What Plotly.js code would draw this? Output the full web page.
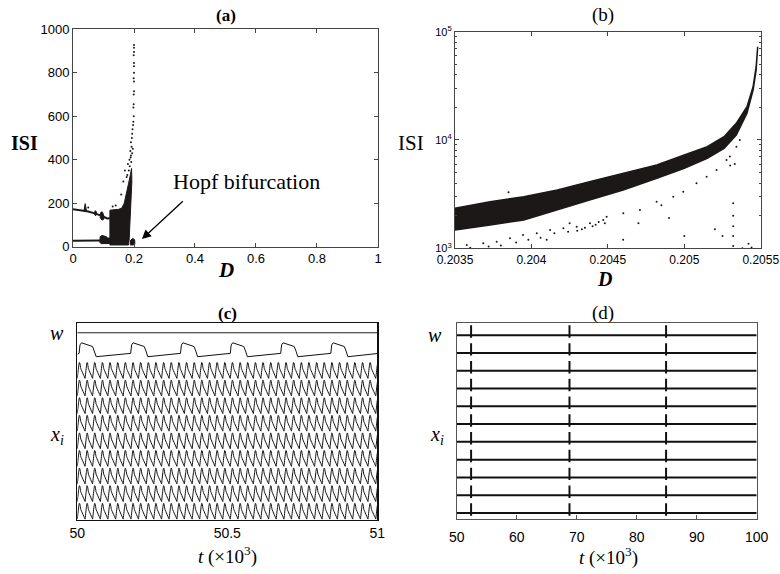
<!DOCTYPE html>
<html>
<head>
<meta charset="utf-8">
<script src="https://cdn.plot.ly/plotly-3.0.1.min.js"></script>
<style>html,body{margin:0;padding:0;background:#fff;}#chart{width:780px;height:574px;}</style>
</head>
<body>
<div id="chart"></div>
<script>
// ---------------- Panel (a): ISI vs D ----------------
const aUpperD   = [0.000, 0.020, 0.034, 0.050, 0.060, 0.068, 0.080, 0.088, 0.100, 0.112, 0.121];
const aUpperISI = [172,   169,   166,   162,   158,   155,   148,   145,   138,   130,   131];
const aClusterD   = [0.036, 0.040, 0.044, 0.036, null, 0.070, 0.073, 0.077, 0.074, 0.070, null, 0.089, 0.091, 0.096, 0.100, 0.102, 0.095, 0.089];
const aClusterISI = [166,   198,   166,   166,   null, 152,   166,   160,   142,   152,   null, 134,   158,   160,   148,   128,   122,   134];
const aLowerD   = [0.000, 0.050, 0.090];
const aLowerISI = [27,    26,    28];
const aBlobD   = [0.088, 0.089, 0.095, 0.104, 0.110, 0.112, 0.121, 0.121, 0.112, 0.104, 0.092, 0.088];
const aBlobISI = [20,    46,    52,    50,    46,    40,    40,    15,    15,    12,    14,    20];
const aBlockD   = [0.121, 0.121, 0.150, 0.160, 0.168, 0.175, 0.182, 0.188, 0.192, 0.193, 0.190, 0.187, 0.184, 0.182, 0.121];
const aBlockISI = [8,     168,   172,   178,   200,   240,   290,   330,   360,   300,   180,   90,    30,    8,     8];
const aHopfD   = [0.188, 0.189, 0.196, 0.202, 0.203, 0.197, 0.188];
const aHopfISI = [8,     30,    38,    32,    12,    8,     8];
const aSparseD   = [0.180, 0.185, 0.190, 0.188, 0.192, 0.190, 0.193, 0.194, 0.195, 0.183, 0.178, 0.186, 0.191, 0.189, 0.194, 0.196,
                    0.197, 0.198, 0.199, 0.198, 0.199, 0.199, 0.200, 0.200, 0.199, 0.200, 0.200, 0.200, 0.199, 0.200, 0.200, 0.200,
                    0.158, 0.165, 0.170, 0.176, 0.140, 0.130, 0.050];
const aSparseISI = [380,   400,   420,   440,   460,   480,   500,   520,   540,   350,   330,   370,   390,   410,   430,   450,
                    560,   575,   600,   640,   655,   700,   715,   760,   775,   800,   830,   845,   880,   895,   915,   928,
                    240,   300,   350,   320,   190,   185,   180];
const aXTicks = [0, 0.2, 0.4, 0.6, 0.8, 1];
const aYTicks = [0, 200, 400, 600, 800, 1000];

// ---------------- Panel (b): ISI vs D (log) ----------------
const bBandD    = [0.20350, 0.20373, 0.20395, 0.20417, 0.20438, 0.20460, 0.20482, 0.20500, 0.20515, 0.20526, 0.20534, 0.20541, 0.20545, 0.20547, 0.20548];
const bUpperISI = [2340,    2690,    2990,    3450,    4120,    4920,    5880,    7270,    8670,    10720,   14250,   20300,   31000,   47500,   72600];
const bLowerISI = [1476,    1641,    1825,    2257,    2790,    3450,    4430,    5470,    6780,    8380,    11130,   17630,   28950,   44300,   72600];
const bSparseD = [
  0.203577, 0.203600, 0.203685, 0.203720, 0.203773, 0.203800, 0.203860, 0.203900, 0.203945, 0.203980,
  0.204035, 0.204060, 0.204122, 0.204150, 0.204209, 0.204240, 0.204296, 0.204330, 0.204383, 0.204400,
  0.204420, 0.204440, 0.204470, 0.204480, 0.204492, 0.204300, 0.204350, 0.204601, 0.204710, 0.204819,
  0.204850, 0.204928, 0.204993, 0.205080, 0.205146, 0.205211, 0.205276, 0.205298, 0.205341, 0.205363,
  0.205320, 0.205320, 0.205320, 0.205320, 0.205320, 0.205330, 0.205300, 0.205250, 0.205200, 0.205380,
  0.205420, 0.205440, 0.204700, 0.204900, 0.204100, 0.204600, 0.205000, 0.203700, 0.204250, 0.203850];
const bSparseISI = [
  1073, 1010, 1112, 1040, 1151, 1060, 1236, 1130, 1327, 1200,
  1375, 1250, 1476, 1380, 1530, 1420, 1583, 1500, 1700, 1600,
  1650, 1750, 1825, 1700, 1960, 1450, 1550, 2105, 2258, 2691,
  2500, 2992, 3330, 3980, 4580, 5280, 6530, 7030, 8670, 10000,
  2600, 2000, 1600, 1300, 1050, 6000, 5800, 1300, 1500, 1000,
  1100, 1020, 1700, 1900, 1200, 1200, 1300, 2100, 1700, 3300];
const bXTicks = [0.2035, 0.204, 0.2045, 0.205, 0.2055];
const bXTickText = ['0.2035', '0.204', '0.2045', '0.205', '0.2055'];
const bYTicks = [1000, 10000, 100000];
const bYTickText = ['10<sup>3</sup>', '10<sup>4</sup>', '10<sup>5</sup>'];
const bYMinorTicks = [2000, 3000, 4000, 5000, 6000, 7000, 8000, 9000, 20000, 30000, 40000, 50000, 60000, 70000, 80000, 90000];

// ---------------- Panel (c): time series, t in 50..51 (x10^3) ----------------
const cWLevel = 10.64;
const cSlowStartVal = 9.42, cSlowEndVal = 9.46;
const cHumpOnsets = [50.006, 50.178, 50.344, 50.510, 50.678, 50.845];
const cHumpDt  = [0, 0.003, 0.008, 0.045, 0.051, 0.057];
const cHumpVal = [9.47, 9.95, 10.07, 9.86, 9.60, 9.28];
const cXiStarts = [50.000, 50.026, 50.051, 50.077, 50.102, 50.128, 50.153, 50.179, 50.204, 50.230,
                   50.255, 50.281, 50.306, 50.332, 50.357, 50.383, 50.408, 50.434, 50.459, 50.485,
                   50.510, 50.536, 50.561, 50.587, 50.612, 50.638, 50.663, 50.689, 50.714, 50.740,
                   50.765, 50.791, 50.816, 50.842, 50.867, 50.893, 50.918, 50.944, 50.969, 50.995];
const cXiPhase = [0, 0.18, 0.26, 0.32, 0.45, 1.0];
const cXiVal   = [0.05, 0.75, 0.95, 0.92, 0.60, 0.05];
const cXiRows  = 9;
const cXTicks = [50, 50.5, 51];
const cXTickText = ['50', '50.5', '51'];

// ---------------- Panel (d): time series, t in 50..100 (x10^3) ----------------
const dSpikeTimes = [52.4, 68.8, 84.9];
const dRows = 11;
const dSpikeUp = 0.55, dSpikeDown = 0.15;
const dXTicks = [50, 60, 70, 80, 90, 100];

// ================= build traces =================
const INK = '#1c1818';
const traces = [];
// (a)
traces.push({x: aBlockD, y: aBlockISI, xaxis:'x', yaxis:'y', mode:'lines', fill:'toself', fillcolor:INK, line:{color:INK, width:1}});
traces.push({x: aBlobD, y: aBlobISI, xaxis:'x', yaxis:'y', mode:'lines', fill:'toself', fillcolor:INK, line:{color:INK, width:1}});
traces.push({x: aClusterD, y: aClusterISI, xaxis:'x', yaxis:'y', mode:'lines', fill:'toself', fillcolor:INK, line:{color:INK, width:1}});
traces.push({x: aHopfD, y: aHopfISI, xaxis:'x', yaxis:'y', mode:'lines', fill:'toself', fillcolor:INK, line:{color:INK, width:1}});
traces.push({x: aUpperD, y: aUpperISI, xaxis:'x', yaxis:'y', mode:'lines', line:{color:INK, width:2}});
traces.push({x: aLowerD, y: aLowerISI, xaxis:'x', yaxis:'y', mode:'lines', line:{color:INK, width:2}});
traces.push({x: aSparseD, y: aSparseISI, xaxis:'x', yaxis:'y', mode:'markers', marker:{color:INK, size:2}});
// (b)
traces.push({x: bBandD.concat(bBandD.slice().reverse()), y: bUpperISI.concat(bLowerISI.slice().reverse()),
  xaxis:'x2', yaxis:'y2', mode:'lines', fill:'toself', fillcolor:INK, line:{color:INK, width:1.5}});
traces.push({x: bSparseD, y: bSparseISI, xaxis:'x2', yaxis:'y2', mode:'markers', marker:{color:INK, size:2}});
// (c)
traces.push({x:[50, 51], y:[cWLevel, cWLevel], xaxis:'x3', yaxis:'y3', mode:'lines', line:{color:'#222', width:1}});
(function(){
  const x=[50], y=[cSlowStartVal];
  cHumpOnsets.forEach(T => { cHumpDt.forEach((dt,j) => { x.push(T+dt); y.push(cHumpVal[j]); }); });
  x.push(51); y.push(cSlowEndVal);
  traces.push({x:x, y:y, xaxis:'x3', yaxis:'y3', mode:'lines', line:{color:'#111', width:1}});
})();
for (let r = 0; r < cXiRows; r++) {
  const x=[], y=[];
  cXiStarts.forEach((T,i) => {
    const per = (i < cXiStarts.length-1) ? cXiStarts[i+1]-T : T-cXiStarts[i-1];
    cXiPhase.forEach((p,j) => { x.push(T+p*per); y.push(r + cXiVal[j]); });
  });
  traces.push({x:x, y:y, xaxis:'x3', yaxis:'y3', mode:'lines', line:{color:'#111', width:1, shape:'spline', smoothing:0.4}});
}
// (d)
for (let k = 0; k < dRows; k++) {
  const x=[50], y=[k];
  dSpikeTimes.forEach(s => { x.push(s,s,s,s); y.push(k, k+dSpikeUp, k-dSpikeDown, k); });
  x.push(100); y.push(k);
  traces.push({x:x, y:y, xaxis:'x4', yaxis:'y4', mode:'lines', line:{color:'#111', width:2}});
}

// ================= layout =================
const serif = 'Liberation Serif, DejaVu Serif, serif';
const sans = 'Liberation Sans, Arial, sans-serif';
const boxAx = {showline:true, linecolor:'#444', linewidth:1, mirror:'ticks', ticks:'inside', ticklen:4, tickcolor:'#444', showgrid:false, zeroline:false, fixedrange:true};
function lab(text, px, py, size) {
  return {text:text, x:px/780, y:1-py/574, xref:'paper', yref:'paper', xanchor:'center', yanchor:'middle', showarrow:false, font:{family:serif, size:size, color:'#000'}};
}
const layout = {
  width:780, height:574, margin:{l:0, r:0, t:0, b:0}, showlegend:false,
  paper_bgcolor:'#fff', plot_bgcolor:'#fff',
  font:{family:sans, color:'#000'},
  xaxis: Object.assign({}, boxAx, {domain:[0.0936, 0.4846], anchor:'y', range:[0,1], tickvals:aXTicks, tickfont:{size:13, family:sans}}),
  yaxis: Object.assign({}, boxAx, {domain:[0.5702, 0.949], anchor:'x', range:[0,1000], tickvals:aYTicks, tickfont:{size:13, family:sans}}),
  xaxis2: Object.assign({}, boxAx, {domain:[0.5833, 0.9753], anchor:'y2', range:[0.2035, 0.2055], tickvals:bXTicks, ticktext:bXTickText, tickfont:{size:12, family:sans}}),
  yaxis2: Object.assign({}, boxAx, {domain:[0.5674, 0.9448], anchor:'x2', type:'log', range:[3,5], tickvals:bYTicks, ticktext:bYTickText, tickfont:{size:11, family:sans},
           minor:{tickmode:'array', tickvals:bYMinorTicks, ticks:'inside', ticklen:2, tickcolor:'#444', showgrid:false}}),
  xaxis3: {domain:[0.0991, 0.4837], anchor:'y3', range:[50,51], showline:true, linecolor:'#111', linewidth:1.5, mirror:true, ticks:'', showgrid:false, zeroline:false,
           tickvals:cXTicks, ticktext:cXTickText, tickfont:{size:14, family:sans}, fixedrange:true},
  yaxis3: {domain:[0.0941, 0.4368], anchor:'x3', range:[0, 11.18], showline:true, linecolor:'#111', linewidth:1.5, mirror:true, ticks:'', showticklabels:false, showgrid:false, zeroline:false, fixedrange:true},
  xaxis4: {domain:[0.5855, 0.9701], anchor:'y4', range:[50,100], showline:true, linecolor:'#555', linewidth:1, mirror:true, ticks:'inside', ticklen:4, tickcolor:'#555',
           showgrid:false, zeroline:false, tickvals:dXTicks, tickfont:{size:14, family:sans}, ticklabelstandoff:5, fixedrange:true},
  yaxis4: {domain:[0.0953, 0.4378], anchor:'x4', range:[-0.354, 10.70], showline:true, linecolor:'#555', linewidth:1, mirror:true, ticks:'', showticklabels:false, showgrid:false, zeroline:false, fixedrange:true},
  annotations: [
    lab('<b>(a)</b>', 226, 15, 17),
    lab('(b)', 603, 15, 19),
    lab('<b>(c)</b>', 227, 313, 17),
    lab('(d)', 603, 313, 19),
    lab('<b>ISI</b>', 25, 143, 20),
    lab('ISI', 411, 143, 21),
    lab('<b><i>D</i></b>', 226, 270, 21),
    lab('<b><i>D</i></b>', 604, 279, 20),
    {text:'Hopf bifurcation', x:0.568, y:298, xref:'x', yref:'y', xanchor:'center', yanchor:'middle', showarrow:false, font:{family:serif, size:22, color:'#000'}},
    {text:'', x:0.226, y:35, xref:'x', yref:'y', ax:0.365, ay:215, axref:'x', ayref:'y', showarrow:true, arrowhead:2, arrowsize:1.4, arrowwidth:1.3, arrowcolor:'#000'},
    lab('<i>w</i>', 57, 333, 20),
    lab('<i>x<sub>i</sub></i>', 57, 435, 20),
    lab('<i>w</i>', 435, 335, 20),
    lab('<i>x<sub>i</sub></i>', 437, 435, 20),
    lab('<i>t</i> (×10<sup>3</sup>)', 227, 555, 19),
    lab('<i>t</i> (×10<sup>3</sup>)', 608, 556, 19)
  ]
};
Plotly.newPlot('chart', traces, layout, {staticPlot:true, displayModeBar:false});
</script>
</body>
</html>
